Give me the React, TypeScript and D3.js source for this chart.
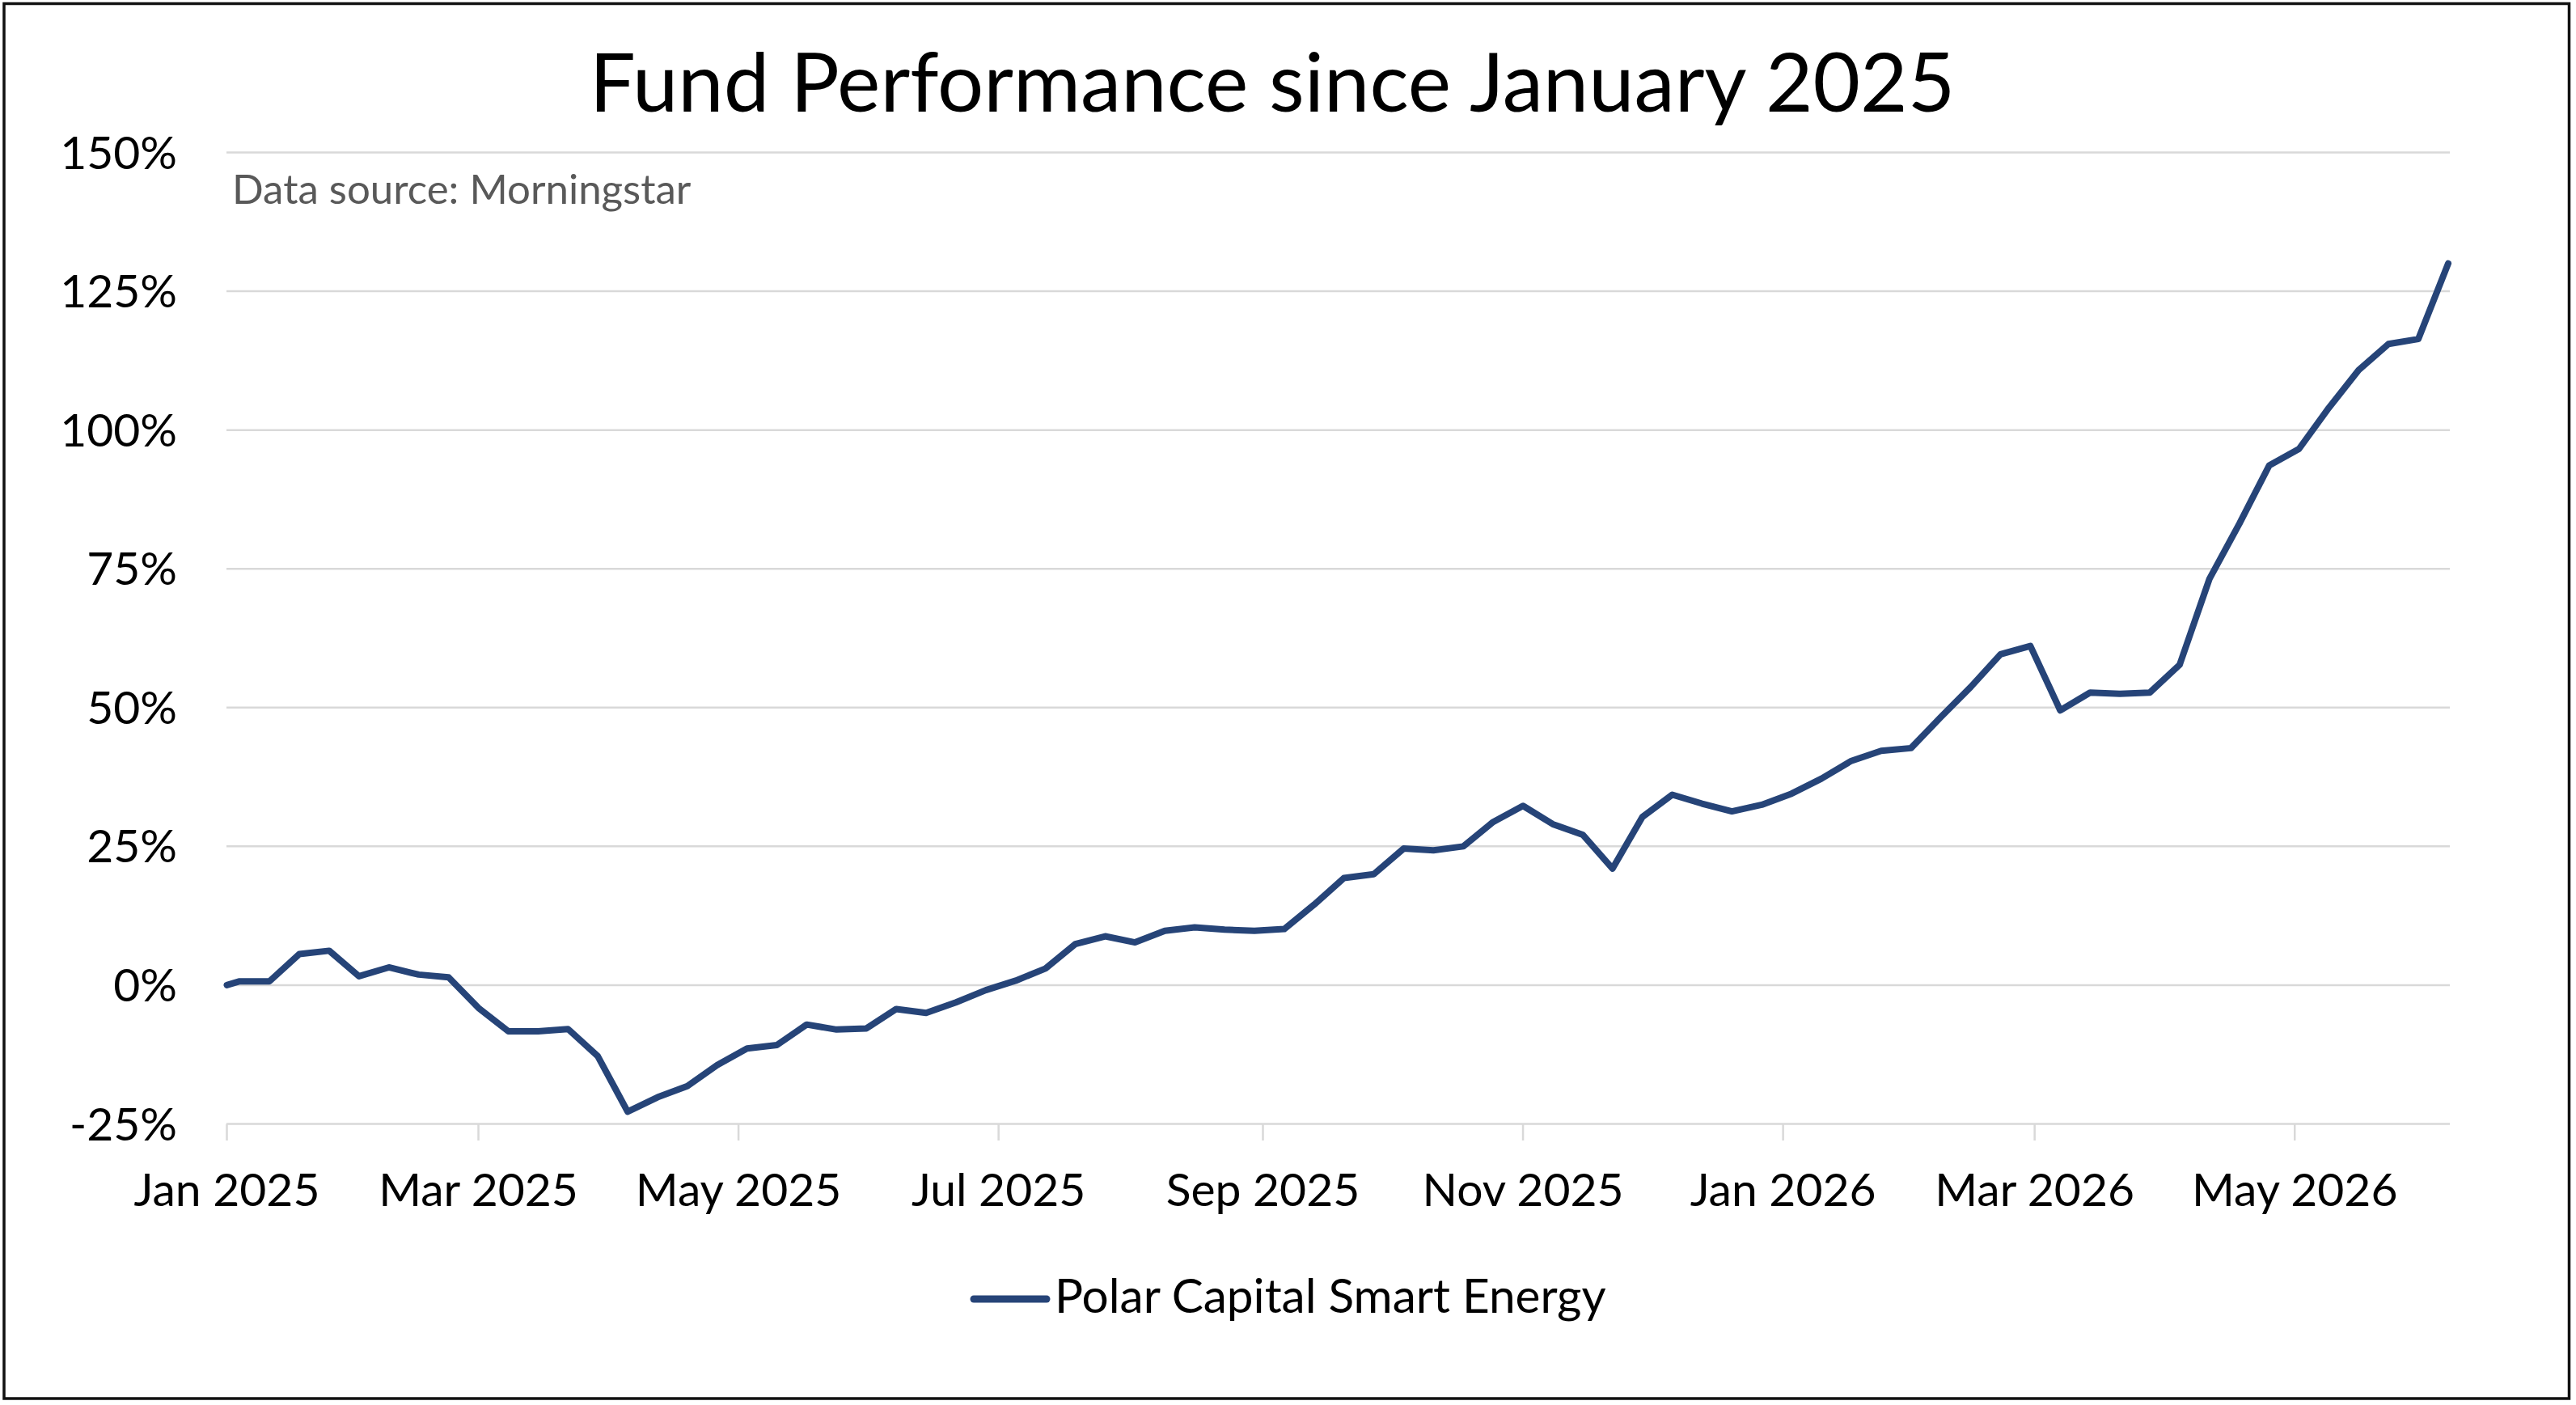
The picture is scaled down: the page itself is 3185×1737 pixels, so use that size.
import React from 'react';
import * as d3 from 'd3';

const title = 'Fund Performance since January 2025';
const sourceNote = 'Data source: Morningstar';
const seriesName = 'Polar Capital Smart Energy';

const dates = [
  '2025-01-01', '2025-01-04', '2025-01-11', '2025-01-18', '2025-01-25',
  '2025-02-01', '2025-02-08', '2025-02-15', '2025-02-22',
  '2025-03-01', '2025-03-08', '2025-03-15', '2025-03-22', '2025-03-29',
  '2025-04-05', '2025-04-12', '2025-04-19', '2025-04-26',
  '2025-05-03', '2025-05-10', '2025-05-17', '2025-05-24', '2025-05-31',
  '2025-06-07', '2025-06-14', '2025-06-21', '2025-06-28',
  '2025-07-05', '2025-07-12', '2025-07-19', '2025-07-26',
  '2025-08-02', '2025-08-09', '2025-08-16', '2025-08-23', '2025-08-30',
  '2025-09-06', '2025-09-13', '2025-09-20', '2025-09-27',
  '2025-10-04', '2025-10-11', '2025-10-18', '2025-10-25',
  '2025-11-01', '2025-11-08', '2025-11-15', '2025-11-22', '2025-11-29',
  '2025-12-06', '2025-12-13', '2025-12-20', '2025-12-27',
  '2026-01-03', '2026-01-10', '2026-01-17', '2026-01-24', '2026-01-31',
  '2026-02-07', '2026-02-14', '2026-02-21', '2026-02-28',
  '2026-03-07', '2026-03-14', '2026-03-21', '2026-03-28',
  '2026-04-04', '2026-04-11', '2026-04-18', '2026-04-25',
  '2026-05-02', '2026-05-09', '2026-05-16', '2026-05-23', '2026-05-30',
  '2026-06-06',
];

const returnsPct = [
  0, 0.7, 0.7, 5.6, 6.2, 1.6, 3.2, 1.9, 1.4, -4.1,
  -8.3, -8.3, -7.9, -12.8, -22.8, -20.2, -18.2, -14.4, -11.4, -10.8,
  -7.1, -8.0, -7.8, -4.3, -5.0, -3.1, -0.9, 0.8, 3.0, 7.4,
  8.8, 7.7, 9.8, 10.4, 10.0, 9.8, 10.1, 14.5, 19.3, 20.0,
  24.6, 24.3, 25.0, 29.4, 32.3, 29.0, 27.1, 21.0, 30.3, 34.3,
  32.7, 31.3, 32.5, 34.5, 37.2, 40.4, 42.2, 42.7, 48.3, 53.7,
  59.6, 61.1, 49.5, 52.7, 52.5, 52.7, 57.7, 73.2, 83.1, 93.6,
  96.6, 104.0, 110.8, 115.5, 116.4, 130.0,
];

const yTicks = [-25, 0, 25, 50, 75, 100, 125, 150];
const xTickDates = [
  '2025-01-01', '2025-03-01', '2025-05-01', '2025-07-01', '2025-09-01',
  '2025-11-01', '2026-01-01', '2026-03-01', '2026-05-01',
];

const W = 3185;
const H = 1737;
const FONT = 'Lato, "Noto Sans", sans-serif';
const LINE_COLOR = '#264478';
const GRID_COLOR = '#d9d9d9';

export default function App() {
  const parse = d3.utcParse('%Y-%m-%d');
  const data = dates.map((d, i) => ({ date: parse(d) as Date, value: returnsPct[i] }));

  const x = d3
    .scaleUtc()
    .domain([parse('2025-01-01') as Date, parse('2026-06-06') as Date])
    .range([280.5, 3027]);
  const y = d3.scaleLinear().domain([-25, 150]).range([1389.5, 188.5]);

  const line = d3
    .line<{ date: Date; value: number }>()
    .x((d) => x(d.date))
    .y((d) => y(d.value));

  const fmt = d3.utcFormat('%b %Y');
  const gridX0 = 280;
  const gridX1 = 3029;

  return (
    <svg
      width={W}
      height={H}
      viewBox={`0 0 ${W} ${H}`}
      style={{ position: 'absolute', left: 0, top: 0, background: '#fff' }}
    >
      <rect x={0} y={0} width={W} height={H} fill="#fff" />
      <rect x={5} y={4.5} width={3171.5} height={1724.5} fill="none" stroke="#111" strokeWidth={3.5} />

      <text x={1573} y={138} textAnchor="middle" fontFamily={FONT} fontSize={101} fill="#000">
        {title}
      </text>

      {yTicks.map((t) => (
        <g key={t}>
          <line x1={gridX0} x2={gridX1} y1={y(t)} y2={y(t)} stroke={GRID_COLOR} strokeWidth={2.5} />
          <text
            x={219}
            y={y(t) + 20}
            textAnchor="end"
            fontFamily={FONT}
            fontSize={57}
            fill="#000"
          >
            {`${t}%`}
          </text>
        </g>
      ))}

      {xTickDates.map((s) => {
        const d = parse(s) as Date;
        const px = x(d);
        return (
          <g key={s}>
            <line x1={px} x2={px} y1={y(-25)} y2={1410} stroke={GRID_COLOR} strokeWidth={2.5} />
            <text x={px} y={1491} textAnchor="middle" fontFamily={FONT} fontSize={57} fill="#000">
              {fmt(d)}
            </text>
          </g>
        );
      })}

      <text x={287} y={252} fontFamily={FONT} fontSize={51} fill="#595959">
        {sourceNote}
      </text>

      <path
        d={line(data) || ''}
        fill="none"
        stroke={LINE_COLOR}
        strokeWidth={8}
        strokeLinejoin="round"
        strokeLinecap="round"
      />

      <line x1={1204} x2={1294} y1={1606} y2={1606} stroke={LINE_COLOR} strokeWidth={9} strokeLinecap="round" />
      <text x={1304} y={1623} fontFamily={FONT} fontSize={58.5} fill="#000">
        {seriesName}
      </text>
    </svg>
  );
}
